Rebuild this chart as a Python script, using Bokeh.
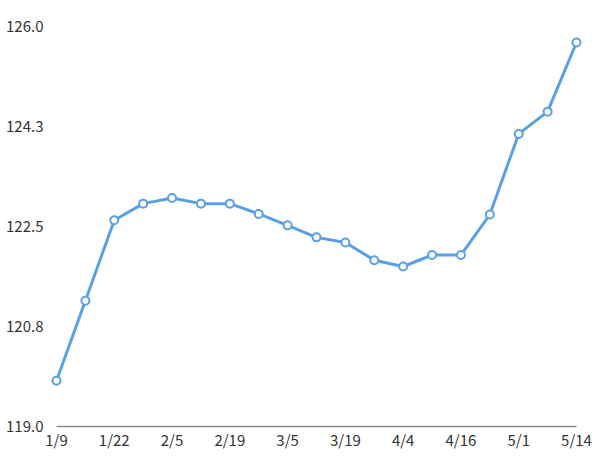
from bokeh.plotting import figure
from bokeh.models import Range1d, FixedTicker
from bokeh.embed import file_html
from bokeh.resources import INLINE

# ---- data ----
values = [119.80, 121.20, 122.61, 122.90, 123.00, 122.90, 122.90, 122.72, 122.52,
          122.31, 122.22, 121.91, 121.80, 122.00, 122.00, 122.71, 124.12, 124.51, 125.72]
x_tick_labels = ["1/9", "1/22", "2/5", "2/19", "3/5", "3/19", "4/4", "4/16", "5/1", "5/14"]
y_ticks = [119.0, 120.75, 122.5, 124.25, 126.0]
y_tick_labels = ["119.0", "120.8", "122.5", "124.3", "126.0"]

xs = list(range(len(values)))
x_tick_pos = xs[::2]

n = len(values) - 1
pad = 9 / (520 / n)

p = figure(width=592, height=452, output_backend="svg", toolbar_location=None,
           x_range=Range1d(-pad, n + pad), y_range=Range1d(119.0, 126.0),
           min_border_left=47, min_border_right=7, min_border_top=26, min_border_bottom=24)
p.outline_line_color = None
p.grid.grid_line_color = None
p.background_fill_color = "white"
p.border_fill_color = "white"

font = "Noto Sans CJK JP"
p.xaxis.ticker = FixedTicker(ticks=x_tick_pos)
p.xaxis.major_label_overrides = {t: l for t, l in zip(x_tick_pos, x_tick_labels)}
p.xaxis.bounds = (0, n)
p.xaxis.axis_line_color = "#8a8a8a"
p.xaxis.axis_line_width = 1.5
p.xaxis.major_tick_line_color = None
p.xaxis.minor_tick_line_color = None
p.xaxis.major_tick_out = 0
p.xaxis.major_tick_in = 0
p.xaxis.major_label_standoff = 2
p.xaxis.major_label_text_font = font
p.xaxis.major_label_text_font_size = "15px"
p.xaxis.major_label_text_color = "#333333"

p.yaxis.ticker = FixedTicker(ticks=y_ticks)
p.yaxis.major_label_overrides = {t: l for t, l in zip(y_ticks, y_tick_labels)}
p.yaxis.axis_line_color = None
p.yaxis.major_tick_line_color = None
p.yaxis.minor_tick_line_color = None
p.yaxis.major_tick_out = 0
p.yaxis.major_tick_in = 0
p.yaxis.major_label_standoff = 4
p.yaxis.major_label_text_font = font
p.yaxis.major_label_text_font_size = "15px"
p.yaxis.major_label_text_color = "#333333"

color = "#5AA0E6"
p.line(xs, values, line_color=color, line_width=3)
p.scatter(xs, values, marker="circle", size=8, fill_color="white",
          line_color=color, line_width=2)

open("out.html", "w").write(file_html(p, INLINE))
